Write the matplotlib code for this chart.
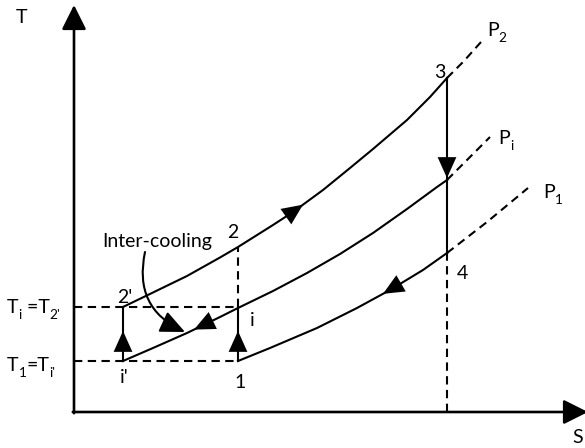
import numpy as np
import matplotlib
matplotlib.use("Agg")
import matplotlib.pyplot as plt
from matplotlib.patches import FancyArrowPatch

# ---- cycle data (entropy s, temperature T), arbitrary units ----
# isobar P2 (high pressure)
p2_s = [49, 79, 113, 146, 164, 199, 219, 249, 276, 299, 333, 356, 373]
p2_T = [105, 119.5, 136, 154.5, 165, 187, 200, 222, 244, 263, 292, 315, 334]
p2_ext_s = [373, 390, 407]
p2_ext_T = [334, 351, 370]

# isobar Pi (intermediate pressure)
pi_s = [49, 79, 113, 146, 164, 199, 233, 266, 299, 333, 363, 373]
pi_T = [51, 64, 79, 95, 104, 121, 139, 158, 179, 203, 225, 232]
pi_ext_s = [373, 394, 416]
pi_ext_T = [232, 253, 275]

# isobar P1 (low pressure)
p1_s = [164, 196, 243, 283, 316, 349, 373]
p1_T = [51, 64, 84, 104, 122, 142, 159]
p1_ext_s = [373, 413, 454]
p1_ext_T = [159, 190, 224]

s_low, s_mid, s_high = 49, 164, 373
T_1, T_i = 51, 105

FONT = "Lato"
plt.rcParams["font.family"] = [FONT, "DejaVu Sans"]

fig = plt.figure(figsize=(5.85, 4.48), dpi=100)
ax = fig.add_axes([0, 0, 1, 1])
ax.set_xlim(-74, 511)
ax.set_ylim(-36, 412)
ax.axis("off")

LW = 1.5
DASH = (0, (4, 2.6))
FS = 14
HEAD = "-|>,head_length=1.0,head_width=0.45"

# axes with arrow heads
axis_arrow = dict(arrowstyle="-|>,head_length=1.0,head_width=0.5",
                  lw=1.9, color="black", shrinkA=0, shrinkB=0,
                  mutation_scale=15)
ax.annotate("", xy=(0, 407), xytext=(0, -1.2), arrowprops=axis_arrow,
            annotation_clip=False)
ax.annotate("", xy=(514, 0), xytext=(-1.2, 0), arrowprops=axis_arrow,
            annotation_clip=False)

# isobars
ax.plot(p2_s, p2_T, color="black", lw=LW)
ax.plot(pi_s, pi_T, color="black", lw=LW)
ax.plot(p1_s, p1_T, color="black", lw=LW)
for xs, ys in [(p2_ext_s, p2_ext_T), (pi_ext_s, pi_ext_T), (p1_ext_s, p1_ext_T)]:
    ax.plot(xs, ys, color="black", lw=LW, linestyle=DASH)

# compression and expansion (vertical)
T3 = p2_T[-1]
T4 = p1_T[-1]
T2 = float(np.interp(s_mid, p2_s, p2_T))
ax.plot([s_low, s_low], [T_1, T_i], color="black", lw=LW)
ax.plot([s_mid, s_mid], [T_1, T_i], color="black", lw=LW)
ax.plot([s_high, s_high], [T4, T3], color="black", lw=LW)

# guide lines
ax.plot([0, s_mid], [T_i, T_i], color="black", lw=LW, linestyle=DASH)
ax.plot([0, s_mid], [T_1, T_1], color="black", lw=LW, linestyle=DASH)
ax.plot([s_mid, s_mid], [T_i, T2], color="black", lw=LW, linestyle=DASH)
ax.plot([s_high, s_high], [0, T4], color="black", lw=LW, linestyle=DASH)


def head(tip, tail):
    ax.annotate("", xy=tip, xytext=tail,
                arrowprops=dict(arrowstyle=HEAD, lw=0.01, color="black",
                                shrinkA=0, shrinkB=0, mutation_scale=15))


def head_on_curve(xs, ys, s_tip, s_tail):
    head((s_tip, float(np.interp(s_tip, xs, ys))),
         (s_tail, float(np.interp(s_tail, xs, ys))))


head_on_curve(p2_s, p2_T, 229, 212)
head_on_curve(pi_s, pi_T, 120, 137)
head_on_curve(p1_s, p1_T, 309, 325)
head((s_low, 81), (s_low, 64))
head((s_mid, 81), (s_mid, 64))
head((s_high, 234), (s_high, 251))

# inter-cooling arrow
ax.add_patch(FancyArrowPatch((71, 160), (111, 80),
                             connectionstyle="arc3,rad=0.4",
                             arrowstyle=HEAD, mutation_scale=15,
                             lw=LW, color="black", shrinkA=0, shrinkB=0))
ax.text(83, 171, "Inter-cooling", fontsize=FS, ha="center", va="center")


def label(x, y, txt, ha="center"):
    ax.text(x, y, txt, fontsize=FS, ha=ha, va="center")


def rich(x, y, parts, fs=FS):
    """Draw text built from (string, is_subscript) pieces, left to right."""
    fig.canvas.draw()
    renderer = fig.canvas.get_renderer()
    offset = 0.0
    for txt, sub in parts:
        size = fs * 0.7 if sub else fs
        dy = -fs * 0.55 if sub else 0
        t = ax.annotate(txt, xy=(x, y), xycoords="data",
                        xytext=(offset, dy), textcoords="offset pixels",
                        fontsize=size, ha="left", va="center")
        bb = t.get_window_extent(renderer)
        offset += bb.width


label(-52, 395, "T")
label(504, -25, "S")
label(366, 340, "3")
label(159, 180, "2")
label(43, 115, "2'", ha="left")
label(178, 92, "i")
label(50, 35, "i'")
label(166, 30, "1")
label(388, 139, "4")
rich(413, 382, [("P", False), ("2", True)])
rich(424, 274, [("P", False), ("i", True)])
rich(469, 220, [("P", False), ("1", True)])
rich(-67, 105, [("T", False), ("i", True), (" =T", False), ("2'", True)])
rich(-67, 47, [("T", False), ("1", True), ("=T", False), ("i'", True)])

fig.savefig("out.png", dpi=100)
